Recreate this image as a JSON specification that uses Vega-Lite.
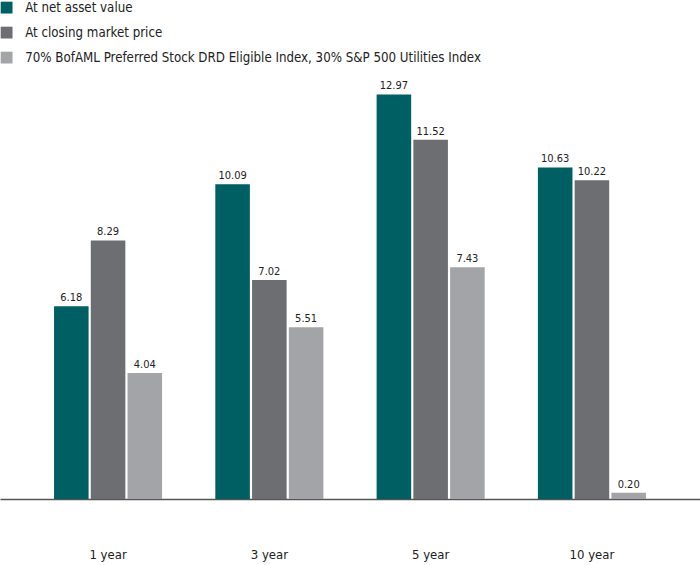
{
  "$schema": "https://vega.github.io/schema/vega-lite/v6.json",
  "width": 700,
  "height": 499,
  "autosize": {"type": "none"},
  "padding": {"left": 0, "top": 0, "right": 0, "bottom": 66},
  "background": "white",
  "config": {"view": {"stroke": null}, "font": "DejaVu Sans Condensed, Roboto"},
  "data": {
    "values": [
      {"period": "1 year", "series": "At net asset value", "value": 6.18, "label": "6.18"},
      {"period": "1 year", "series": "At closing market price", "value": 8.29, "label": "8.29"},
      {"period": "1 year", "series": "70% BofAML Preferred Stock DRD Eligible Index, 30% S&P 500 Utilities Index", "value": 4.04, "label": "4.04"},
      {"period": "3 year", "series": "At net asset value", "value": 10.09, "label": "10.09"},
      {"period": "3 year", "series": "At closing market price", "value": 7.02, "label": "7.02"},
      {"period": "3 year", "series": "70% BofAML Preferred Stock DRD Eligible Index, 30% S&P 500 Utilities Index", "value": 5.51, "label": "5.51"},
      {"period": "5 year", "series": "At net asset value", "value": 12.97, "label": "12.97"},
      {"period": "5 year", "series": "At closing market price", "value": 11.52, "label": "11.52"},
      {"period": "5 year", "series": "70% BofAML Preferred Stock DRD Eligible Index, 30% S&P 500 Utilities Index", "value": 7.43, "label": "7.43"},
      {"period": "10 year", "series": "At net asset value", "value": 10.63, "label": "10.63"},
      {"period": "10 year", "series": "At closing market price", "value": 10.22, "label": "10.22"},
      {"period": "10 year", "series": "70% BofAML Preferred Stock DRD Eligible Index, 30% S&P 500 Utilities Index", "value": 0.20, "label": "0.20"}
    ]
  },
  "encoding": {
    "x": {
      "field": "period", "type": "nominal", "sort": ["1 year", "3 year", "5 year", "10 year"],
      "scale": {"paddingInner": 0.33, "paddingOuter": 0.335},
      "axis": {"title": null, "labelAngle": 0, "ticks": false, "domainColor": "#555555", "domainWidth": 1.5, "labelPadding": 49, "labelFontSize": 13, "labelColor": "#222222", "labelFont": "DejaVu Sans Condensed, Roboto"}
    },
    "xOffset": {
      "field": "series", "type": "nominal",
      "sort": ["At net asset value", "At closing market price", "70% BofAML Preferred Stock DRD Eligible Index, 30% S&P 500 Utilities Index"],
      "scale": {"paddingInner": 0.06}
    },
    "y": {"field": "value", "type": "quantitative", "scale": {"domain": [0, 16], "nice": false}, "axis": null}
  },
  "layer": [
    {
      "mark": {"type": "bar"},
      "encoding": {
        "color": {
          "field": "series", "type": "nominal",
          "sort": ["At net asset value", "At closing market price", "70% BofAML Preferred Stock DRD Eligible Index, 30% S&P 500 Utilities Index"],
          "scale": {"range": ["#005f63", "#6d6e71", "#a2a4a7"]},
          "legend": {
            "title": null, "orient": "none", "legendX": 0, "legendY": 1,
            "symbolType": "square", "symbolSize": 140, "symbolStrokeWidth": 0,
            "labelFontSize": 13.2, "labelColor": "#222222", "labelFont": "DejaVu Sans Condensed, Roboto",
            "labelOffset": 12, "rowPadding": 11, "labelLimit": 600
          }
        }
      }
    },
    {
      "mark": {"type": "text", "dy": -8, "fontSize": 11, "color": "#222222", "font": "DejaVu Sans Condensed, Roboto"},
      "encoding": {"text": {"field": "label"}}
    }
  ]
}
